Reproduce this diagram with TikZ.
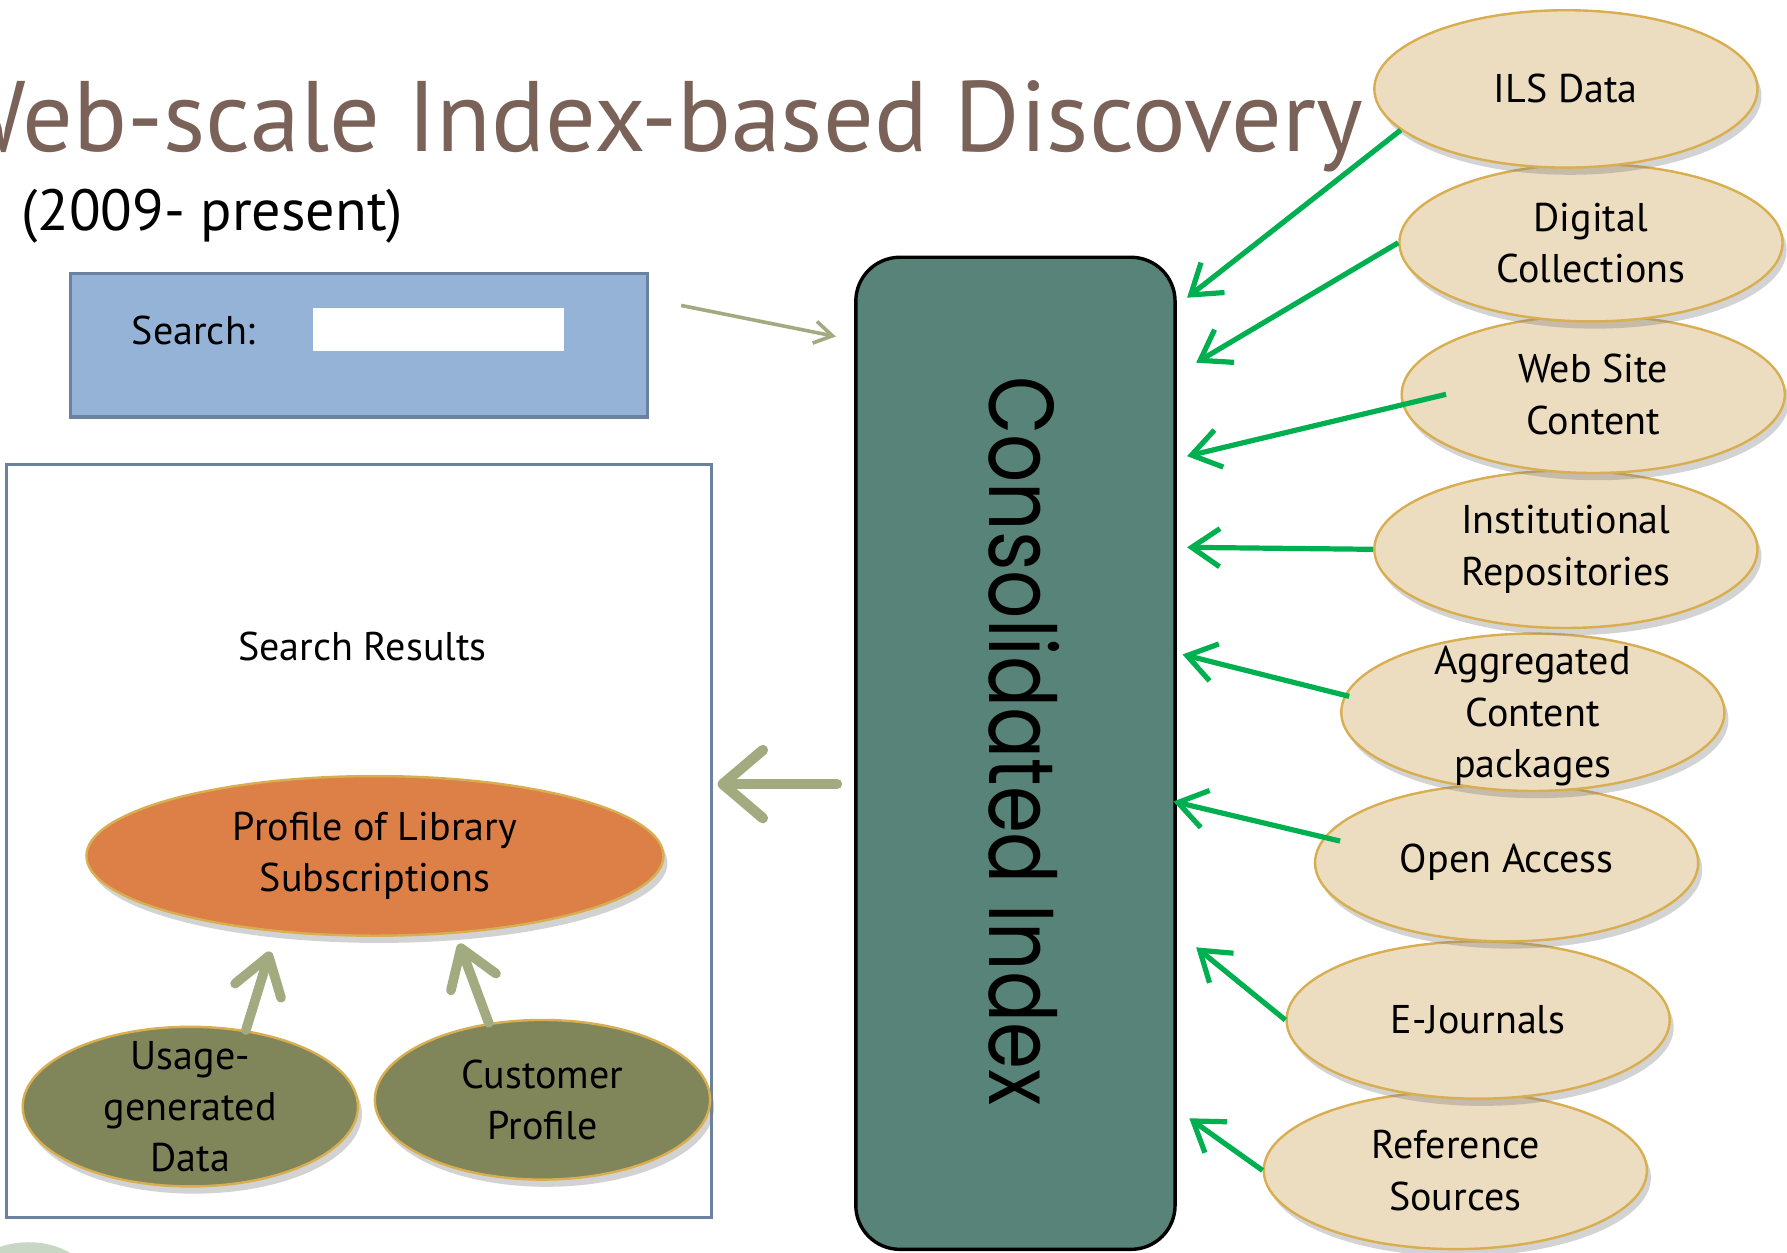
\documentclass[tikz,border=0pt]{standalone}
\usepackage{fontspec}
\setmainfont{PT Sans}
\newfontfamily\idxfont{Poppins}
\usepackage{tikz}
\usetikzlibrary{arrows.meta,positioning,shapes.geometric,shadows}
\definecolor{titlebrown}{RGB}{122,98,88}
\definecolor{searchblue}{RGB}{149,179,215}
\definecolor{slate}{RGB}{106,130,158}
\definecolor{indexteal}{RGB}{88,131,120}
\definecolor{sourcebeige}{RGB}{236,220,192}
\definecolor{rimgold}{RGB}{216,174,80}
\definecolor{profileorange}{RGB}{220,128,71}
\definecolor{dataolive}{RGB}{128,133,90}
\definecolor{arrowolive}{RGB}{162,170,128}
\definecolor{feedgreen}{RGB}{0,176,80}
\definecolor{leafgreen}{RGB}{200,214,196}
\newcommand{\stacktext}[1]{\smash{\raisebox{-3.4pt}{\begin{tabular}{@{}c@{}}#1\end{tabular}}}}
\tikzstyle{plain}=[inner sep=0pt,font=\fontsize{10}{12.8}\selectfont]
\tikzstyle{bubble}=[ellipse,draw=rimgold,line width=0.6pt,inner sep=0pt,align=center,font=\fontsize{10}{12.8}\selectfont,drop shadow={shadow xshift=1pt,shadow yshift=-1.8pt,opacity=.35}]
\tikzstyle{source}=[bubble,fill=sourcebeige,minimum width=3.36cm,minimum height=1.38cm]
\tikzstyle{data}=[bubble,fill=dataolive,minimum width=2.94cm,minimum height=1.4cm]
\tikzstyle{profile}=[bubble,fill=profileorange,minimum width=5.06cm,minimum height=1.4cm]
\tikzstyle{feed}=[feedgreen,line width=1.3pt,-{Straight Barb[length=7pt,width=9.5pt]}]
\tikzstyle{backflow}=[arrowolive,line width=2.4pt,line cap=round,-{Straight Barb[length=9pt,width=12pt,round]}]

\begin{document}
\begin{tikzpicture}[x=0.01cm,y=-0.01cm]
\useasboundingbox (0,0) rectangle (1568,1099.4);
\clip (0,0) rectangle (1568,1099.4);
\fill[leafgreen] (25,1135) ellipse (60 and 45);
% heading
\node[anchor=base east,inner sep=0pt,text=titlebrown,font=\fontsize{25}{29}\selectfont] (title) at (1197,133) {Web-scale Index-based Discovery};
\node[anchor=base west,inner sep=0pt,font=\fontsize{14.5}{17}\selectfont] (period) at (18,202) {(2009- present)};
% search form
\node[draw=slate,fill=searchblue,line width=0.85pt,minimum width=5.06cm,minimum height=1.26cm] (search) at (315,303) {};
\node[plain] (searchlabel) at (170,290) {Search:};
\node[fill=white,minimum width=2.2cm,minimum height=0.38cm,inner sep=0pt] (field) at (385,289) {};
% results panel
\node[draw=slate,fill=white,line width=0.85pt,minimum width=6.18cm,minimum height=6.6cm] (results) at (315,738) {};
\node[plain] (resultslabel) at (318,567) {Search Results};
\node[profile] (prof) at (329,751) {Profile of Library\\Subscriptions};
\node[data] (usage) at (167,971) {\stacktext{Usage-\\generated\\Data}};
\node[data] (cust) at (476,965) {Customer\\Profile};
% the index
\node[draw=black,fill=indexteal,line width=0.85pt,rounded corners=11pt,minimum width=2.8cm,minimum height=8.7cm] (index) at (891,661) {};
\node[rotate=-90,xscale=0.82,inner sep=0pt,font=\idxfont\fontsize{23}{28}\selectfont] (indexlabel) at (899,650) {Consolidated Index};
% sources
\node[source] (refs) at (1277,1027) {Reference\\Sources};
\node[source] (ejour) at (1297,895) {E-Journals};
\node[source] (oa) at (1322,757) {Open Access};
\node[source] (agg) at (1345,625) {\stacktext{Aggregated\\Content\\packages}};
\node[source] (inst) at (1374,482) {Institutional\\Repositories};
\node[source] (web) at (1398,346) {Web Site\\Content};
\node[source] (dig) at (1396,213) {Digital\\Collections};
\node[source] (ils) at (1374,78) {ILS Data};
% arrows
\draw[feed] (ils.194) -- ([shift={(9,37)}]index.north east);
\draw[feed] (dig.west) -- ([shift={(17,94)}]index.north east);
\draw[feed] ([shift={(40,0)}]web.west) -- ([shift={(9,176)}]index.north east);
\draw[feed] (inst.west) -- ([shift={(9,256)}]index.north east);
\draw[feed] ([shift={(8,-14)}]agg.west) -- ([shift={(5,350)}]index.north east);
\draw[feed] ([shift={(23,-19)}]oa.west) -- ([shift={(-3,479)}]index.north east);
\draw[feed] (ejour.west) -- ([shift={(17,607)}]index.north east);
\draw[feed] (refs.west) -- ([shift={(11,757)}]index.north east);
\draw[arrowolive,line width=0.9pt,-{Straight Barb[length=4.5pt,width=5.5pt]}] ([shift={(28,-35)}]search.east) -- ([shift={(-16,71)}]index.north west);
\draw[backflow,line width=2.6pt,-{Straight Barb[length=10pt,width=17pt,round]}] ([shift={(-15,27)}]index.west) -- ([shift={(4,-50)}]results.east);
\draw[backflow] (usage.54) -- ([shift={(-92,84)}]prof.center);
\draw[backflow] (cust.125) -- ([shift={(74,77)}]prof.center);
\end{tikzpicture}
\end{document}
